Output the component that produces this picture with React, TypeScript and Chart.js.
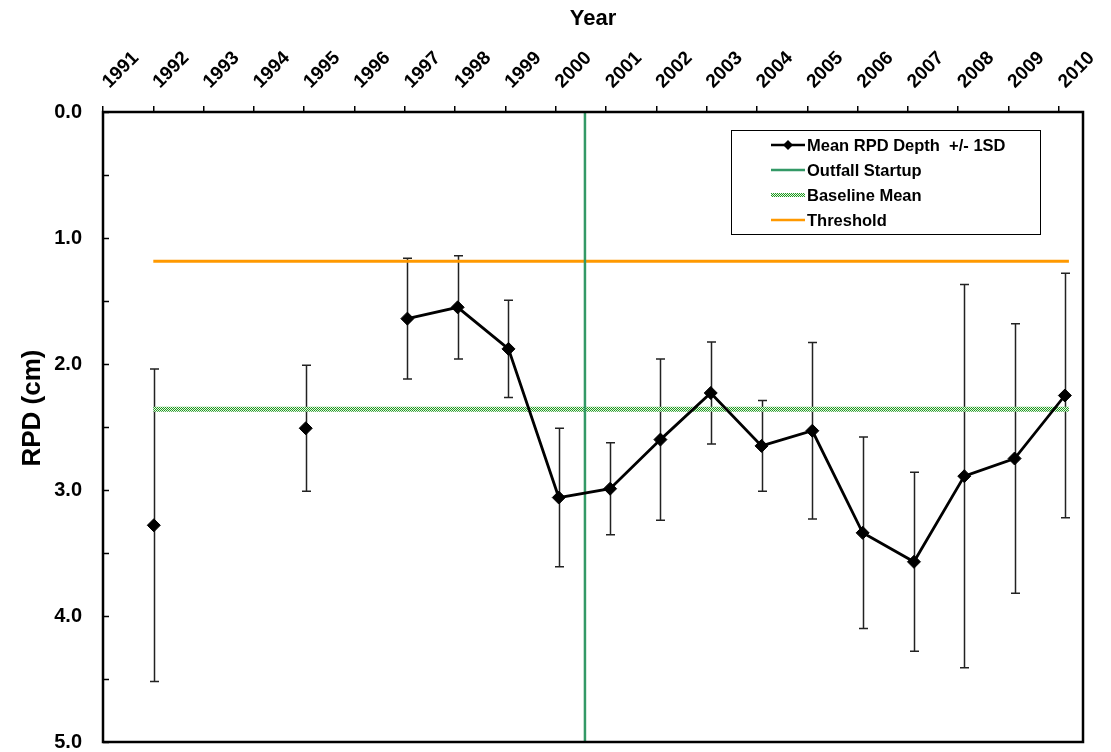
import React, { useEffect, useRef } from 'react';
import { Chart, registerables } from 'chart.js';

Chart.register(...registerables);

// ---- data ----
const yearTickLabels = [1991, 1992, 1993, 1994, 1995, 1996, 1997, 1998, 1999, 2000, 2001, 2002, 2003, 2004, 2005, 2006, 2007, 2008, 2009, 2010];
const surveyYears = [1992.01, 1995.03, 1997.05, 1998.05, 1999.06, 2000.06, 2001.08, 2002.08, 2003.08, 2004.09, 2005.1, 2006.1, 2007.12, 2008.12, 2009.12, 2010.12];
const meanRPD = [3.28, 2.51, 1.64, 1.55, 1.88, 3.06, 2.99, 2.6, 2.23, 2.65, 2.53, 3.34, 3.57, 2.89, 2.75, 2.25];
const sdRPD = [1.24, 0.5, 0.48, 0.41, 0.385, 0.55, 0.365, 0.64, 0.405, 0.36, 0.7, 0.76, 0.71, 1.52, 1.07, 0.97];
const joinedToPrevious = [false, false, false, true, true, true, true, true, true, true, true, true, true, true, true, true];
const outfallStartupYear = 2000.58;
const baselineMean = 2.36;
const thresholdValue = 1.185;
const refLineYears = [1992, 2010.2];
const yTickValues = [0, 0.5, 1, 1.5, 2, 2.5, 3, 3.5, 4, 4.5, 5];
const yAxisTitle = 'RPD (cm)';
const xAxisTitle = 'Year';

const FONT = "'Liberation Sans', Arial, sans-serif";
const ORANGE = '#FF9900';
const OUTFALL_GREEN = '#339966';

function makeBaselinePattern(): CanvasPattern | string {
  const c = document.createElement('canvas');
  c.width = 2;
  c.height = 2;
  const g = c.getContext('2d');
  if (!g) return '#33aa33';
  g.fillStyle = '#e6f7e6';
  g.fillRect(0, 0, 2, 2);
  g.fillStyle = '#229922';
  g.fillRect(0, 0, 1, 1);
  g.fillRect(1, 1, 1, 1);
  const p = g.createPattern(c, 'repeat');
  return p || '#33aa33';
}

export default function App() {
  const canvasRef = useRef<HTMLCanvasElement | null>(null);

  useEffect(() => {
    const canvas = canvasRef.current;
    if (!canvas) return;
    const pattern = makeBaselinePattern();

    const overlayPlugin = {
      id: 'overlay',
      beforeDatasetsDraw(chart: any) {
        const { ctx, scales } = chart;
        const x = scales.x;
        const y = scales.y;
        ctx.save();
        ctx.strokeStyle = '#222';
        ctx.lineWidth = 1.5;
        surveyYears.forEach((yr, i) => {
          const px = Math.round(x.getPixelForValue(yr)) + 0.5;
          const top = y.getPixelForValue(meanRPD[i] - sdRPD[i]);
          const bot = y.getPixelForValue(meanRPD[i] + sdRPD[i]);
          ctx.beginPath();
          ctx.moveTo(px, top);
          ctx.lineTo(px, bot);
          ctx.moveTo(px - 4.5, top);
          ctx.lineTo(px + 4.5, top);
          ctx.moveTo(px - 4.5, bot);
          ctx.lineTo(px + 4.5, bot);
          ctx.stroke();
        });
        ctx.restore();
      },
      afterDraw(chart: any) {
        const { ctx, chartArea, scales } = chart;
        const y = scales.y;
        const { left, top, right, bottom } = chartArea;
        ctx.save();
        // inward ticks on y axis
        ctx.strokeStyle = '#000';
        ctx.lineWidth = 1.5;
        yTickValues.forEach((v) => {
          const py = Math.round(y.getPixelForValue(v)) + 0.5;
          ctx.beginPath();
          ctx.moveTo(left, py);
          ctx.lineTo(left + 6, py);
          ctx.stroke();
        });
        // plot box
        ctx.lineWidth = 2.5;
        ctx.strokeRect(left, top, right - left, bottom - top);

        // y axis title (slightly above the plot centre, as in the reference)
        ctx.save();
        ctx.translate(left - 70, top + (bottom - top) * 0.47);
        ctx.rotate(-Math.PI / 2);
        ctx.font = `bold 26px ${FONT}`;
        ctx.fillStyle = '#000';
        ctx.textAlign = 'center';
        ctx.textBaseline = 'middle';
        ctx.fillText(yAxisTitle, 0, 0);
        ctx.restore();

        // legend
        const bx = left + 628;
        const by = top + 18;
        const bw = 309;
        const bh = 104;
        ctx.fillStyle = '#fff';
        ctx.fillRect(bx, by, bw, bh);
        ctx.lineWidth = 1;
        ctx.strokeStyle = '#000';
        ctx.strokeRect(bx + 0.5, by + 0.5, bw, bh);
        const sx0 = bx + 40;
        const sx1 = bx + 74;
        const tx = bx + 76;
        const rows = [
          { label: 'Mean RPD Depth  +/- 1SD', color: '#000', width: 2.5, marker: true },
          { label: 'Outfall Startup', color: OUTFALL_GREEN, width: 2.5, marker: false },
          { label: 'Baseline Mean', color: pattern, width: 4, marker: false },
          { label: 'Threshold', color: ORANGE, width: 2.5, marker: false },
        ];
        ctx.font = `bold 16.5px ${FONT}`;
        ctx.textBaseline = 'middle';
        ctx.textAlign = 'left';
        rows.forEach((r, i) => {
          const ry = by + 15 + i * 25;
          ctx.strokeStyle = r.color as any;
          ctx.lineWidth = r.width;
          ctx.beginPath();
          ctx.moveTo(sx0, ry);
          ctx.lineTo(sx1, ry);
          ctx.stroke();
          if (r.marker) {
            const mx = (sx0 + sx1) / 2;
            ctx.fillStyle = '#000';
            ctx.beginPath();
            ctx.moveTo(mx, ry - 5);
            ctx.lineTo(mx + 5, ry);
            ctx.lineTo(mx, ry + 5);
            ctx.lineTo(mx - 5, ry);
            ctx.closePath();
            ctx.fill();
          }
          ctx.fillStyle = '#000';
          ctx.fillText(r.label, tx, ry + 1);
        });
        ctx.restore();
      },
    };

    const meanPoints = surveyYears.map((yr, i) => ({ x: yr, y: meanRPD[i] }));

    const chart = new Chart(canvas, {
      type: 'line',
      data: {
        datasets: [
          {
            label: 'Mean RPD Depth  +/- 1SD',
            data: meanPoints,
            borderColor: '#000',
            backgroundColor: '#000',
            borderWidth: 2.8,
            pointStyle: 'rectRot',
            pointRadius: 6.5,
            pointBackgroundColor: '#000',
            pointBorderColor: '#000',
            pointBorderWidth: 1,
            tension: 0,
            order: 1,
            segment: {
              borderColor: (ctx: any) => (joinedToPrevious[ctx.p1DataIndex] ? '#000' : 'rgba(0,0,0,0)'),
            },
          } as any,
          {
            label: 'Outfall Startup',
            data: [
              { x: outfallStartupYear, y: 0 },
              { x: outfallStartupYear, y: 5 },
            ],
            borderColor: OUTFALL_GREEN,
            borderWidth: 2.5,
            pointRadius: 0,
            order: 2,
          },
          {
            label: 'Baseline Mean',
            data: refLineYears.map((yr) => ({ x: yr, y: baselineMean })),
            borderColor: pattern as any,
            borderWidth: 5,
            pointRadius: 0,
            order: 3,
          },
          {
            label: 'Threshold',
            data: refLineYears.map((yr) => ({ x: yr, y: thresholdValue })),
            borderColor: ORANGE,
            borderWidth: 3,
            pointRadius: 0,
            order: 4,
          },
        ],
      },
      options: {
        responsive: false,
        animation: false,
        events: [],
        layout: { padding: { left: 0, top: 0, right: 28, bottom: 10 } },
        plugins: {
          legend: { display: false },
          tooltip: { enabled: false },
        },
        scales: {
          x: {
            type: 'linear',
            position: 'top',
            min: yearTickLabels[0],
            max: 2010.48,
            afterBuildTicks: (scale: any) => {
              scale.ticks = yearTickLabels.map((v) => ({ value: v }));
            },
            afterFit: (scale: any) => {
              scale.height = 112;
              scale.paddingLeft = 0;
              scale.paddingRight = 0;
            },
            ticks: {
              autoSkip: false,
              minRotation: 45,
              maxRotation: 45,
              padding: 13,
              labelOffset: 19,
              color: '#000',
              font: { family: FONT, size: 19, weight: 'bold' },
              callback: (v: any) => String(v),
            },
            grid: {
              display: true,
              drawOnChartArea: false,
              drawTicks: true,
              tickLength: 6,
              color: '#000',
              lineWidth: 1.5,
            },
            border: { display: false },
            title: {
              display: true,
              text: xAxisTitle,
              color: '#000',
              font: { family: FONT, size: 22, weight: 'bold' },
              padding: { top: 6, bottom: 0 },
            },
          },
          y: {
            type: 'linear',
            reverse: true,
            min: 0,
            max: 5,
            afterBuildTicks: (scale: any) => {
              scale.ticks = yTickValues.map((v) => ({ value: v }));
            },
            afterFit: (scale: any) => {
              scale.width = 103;
              scale.paddingTop = 0;
              scale.paddingBottom = 0;
            },
            ticks: {
              padding: 13,
              color: '#000',
              font: { family: FONT, size: 20, weight: 'bold' },
              callback: (v: any) => (Number.isInteger(v) ? Number(v).toFixed(1) : ''),
            },
            grid: { display: false },
            border: { display: false },
            title: { display: false },
          },
        },
      } as any,
      plugins: [overlayPlugin],
    });

    return () => {
      chart.destroy();
    };
  }, []);

  return (
    <div style={{ position: 'absolute', left: 0, top: 0, width: 1111, height: 752, background: '#fff' }}>
      <canvas ref={canvasRef} width={1111} height={752} style={{ display: 'block' }} />
    </div>
  );
}
